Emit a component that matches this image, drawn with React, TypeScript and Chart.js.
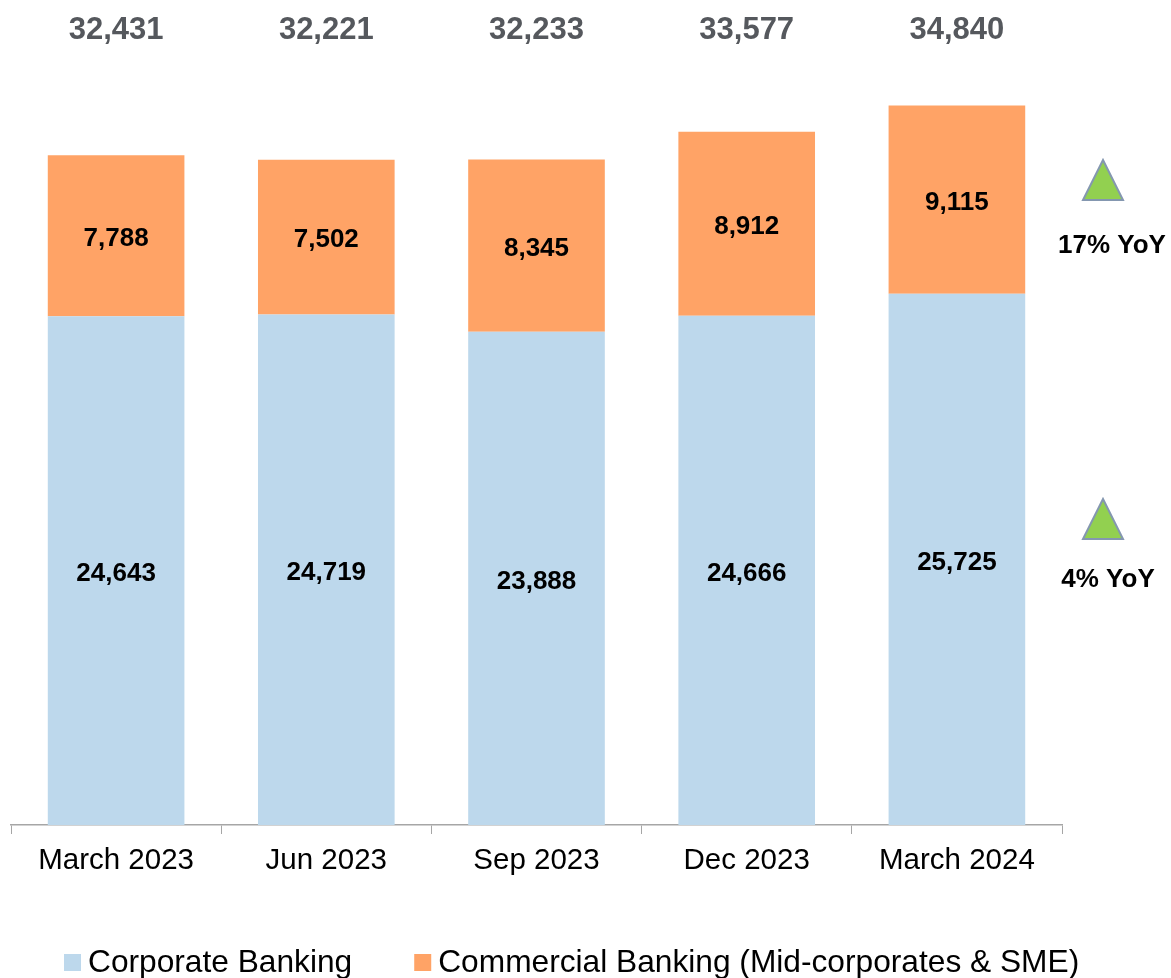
import React, { useEffect, useRef } from "react";
import { Chart, registerables } from "chart.js";

Chart.register(...registerables);

const categories = ["March 2023", "Jun 2023", "Sep 2023", "Dec 2023", "March 2024"];
const corporateBanking = [24643, 24719, 23888, 24666, 25725];
const commercialBanking = [7788, 7502, 8345, 8912, 9115];
const totals = [32431, 32221, 32233, 33577, 34840];
const seriesNames = ["Corporate Banking", "Commercial Banking (Mid-corporates & SME)"];
const seriesColors = ["#BDD8EC", "#FFA366"];
const yoyLabels = ["17% YoY", "4% YoY"];

const FONT = "'Liberation Sans', Arial, Helvetica, sans-serif";
const fmt = (v: number) => v.toLocaleString("en-US");

const annotationPlugin = {
  id: "annotations",
  afterDatasetsDraw(chart: any) {
    const ctx = chart.ctx;
    const xScale = chart.scales.x;
    ctx.save();
    // segment value labels
    ctx.font = `bold 26px ${FONT}`;
    ctx.fillStyle = "#000000";
    ctx.textAlign = "center";
    ctx.textBaseline = "middle";
    chart.data.datasets.forEach((ds: any, di: number) => {
      const meta = chart.getDatasetMeta(di);
      meta.data.forEach((el: any, i: number) => {
        const cy = (el.y + el.base) / 2;
        ctx.fillText(fmt(ds.data[i]), el.x, cy + 3);
      });
    });
    // totals above
    ctx.font = `bold 31px ${FONT}`;
    ctx.fillStyle = "#55585D";
    totals.forEach((t, i) => {
      ctx.fillText(fmt(t), xScale.getPixelForValue(i), 30);
    });
    // YoY triangles
    const tris = [
      { apex: 160, base: 200, cx: 1103, tx: 1112, ty: 246 },
      { apex: 499, base: 539, cx: 1103, tx: 1108, ty: 580 },
    ];
    tris.forEach((tr, k) => {
      ctx.beginPath();
      ctx.moveTo(tr.cx, tr.apex);
      ctx.lineTo(tr.cx + 20, tr.base);
      ctx.lineTo(tr.cx - 20, tr.base);
      ctx.closePath();
      ctx.fillStyle = "#92D050";
      ctx.fill();
      ctx.lineWidth = 2;
      ctx.strokeStyle = "#8497B0";
      ctx.stroke();
      ctx.font = `bold 26px ${FONT}`;
      ctx.fillStyle = "#000000";
      ctx.textAlign = "center";
      ctx.textBaseline = "middle";
      ctx.fillText(yoyLabels[k], tr.tx, tr.ty);
    });
    // legend
    ctx.font = `31.7px ${FONT}`;
    ctx.textAlign = "left";
    ctx.textBaseline = "alphabetic";
    let x = 64;
    chart.data.datasets.forEach((ds: any) => {
      ctx.fillStyle = ds.backgroundColor;
      ctx.fillRect(x, 954, 17, 17);
      ctx.fillStyle = "#000000";
      ctx.fillText(ds.label, x + 24, 972);
      x += 24 + ctx.measureText(ds.label).width + 62;
    });
    ctx.restore();
  },
};

export default function App() {
  const ref = useRef<HTMLCanvasElement | null>(null);
  useEffect(() => {
    if (!ref.current) return;
    const chart = new Chart(ref.current, {
      type: "bar",
      data: {
        labels: categories,
        datasets: [
          {
            label: seriesNames[0],
            data: corporateBanking,
            backgroundColor: seriesColors[0],
            borderWidth: 0,
          },
          {
            label: seriesNames[1],
            data: commercialBanking,
            backgroundColor: seriesColors[1],
            borderWidth: 0,
          },
        ],
      },
      options: {
        responsive: false,
        animation: false,
        devicePixelRatio: 1,
        layout: { padding: { left: 11, right: 109, top: 61, bottom: 0 } },
        datasets: { bar: { categoryPercentage: 1, barPercentage: 0.65 } },
        plugins: {
          legend: { display: false },
          tooltip: { enabled: false },
          title: { display: false },
        },
        scales: {
          x: {
            stacked: true,
            offset: true,
            grid: {
              display: true,
              drawOnChartArea: false,
              drawTicks: true,
              tickLength: 9,
              color: "#A6A6A6",
              offset: true,
            },
            border: { display: true, color: "#A6A6A6", width: 1.5 },
            ticks: {
              font: { family: FONT, size: 29.5 },
              color: "#000000",
              padding: 9,
              maxRotation: 0,
              autoSkip: false,
            },
            afterFit(scale: any) {
              scale.height = 978 - 825;
            },
          },
          y: {
            stacked: true,
            display: false,
            min: 0,
            max: 37000,
          },
        },
      },
      plugins: [annotationPlugin],
    });
    return () => chart.destroy();
  }, []);
  return (
    <div style={{ position: "fixed", left: 0, top: 0, width: 1171, height: 978, background: "#ffffff" }}>
      <canvas ref={ref} width={1171} height={978} style={{ width: 1171, height: 978, display: "block" }} />
    </div>
  );
}
